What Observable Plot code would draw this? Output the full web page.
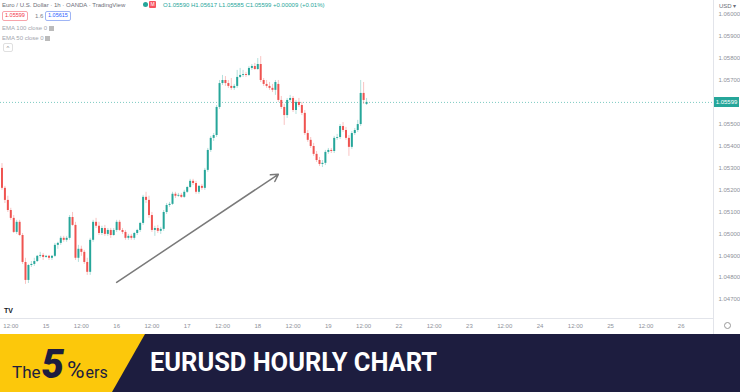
<!DOCTYPE html>
<html><head><meta charset="utf-8">
<script src="https://cdn.jsdelivr.net/npm/d3@7"></script>
<script src="https://cdn.jsdelivr.net/npm/@observablehq/plot@0.6"></script>
<style>
html,body{margin:0;padding:0;background:#fff;}
#wrap{position:relative;width:740px;height:392px;overflow:hidden;font-family:"Liberation Sans",Arial,sans-serif;}
#chart{position:absolute;left:0;top:0;}
.abs{position:absolute;white-space:nowrap;line-height:1;}
.leg{font-size:6px;color:#7d808a;}
.box{border:1px solid;border-radius:2px;padding:1px 2px;font-size:5.5px;}
#vline{position:absolute;left:713px;top:0;width:1px;height:334px;background:#e2e4ea;}
#hline{position:absolute;left:0;top:318px;width:713px;height:1px;background:#e2e4ea;}
#pricetag{position:absolute;left:714px;width:25px;height:10px;background:#26a69a;color:#fff;font-size:6px;line-height:10px;text-align:center;}
#gear{position:absolute;left:724px;top:322px;width:5px;height:5px;border:1px solid #999;border-radius:50%;}
#banner{position:absolute;left:0;top:334px;}
</style></head><body>
<div id="wrap">
  <div id="chart"></div>
  <div id="vline"></div><div id="hline"></div>
  <div class="abs leg" style="left:2px;top:2px;color:#6b6e78">Euro / U.S. Dollar · 1h · OANDA · TradingView</div>
  <div class="abs" style="left:143px;top:2px;width:5px;height:5px;border-radius:50%;background:#26a69a"></div>
  <div class="abs" style="left:149px;top:1px;width:7px;height:7px;border-radius:1px;background:#f7525f;color:#fff;font-size:5px;text-align:center;line-height:7px">M</div>
  <div class="abs leg" id="ohlc" style="left:163px;top:2px;color:#26a69a"></div>
  <div class="abs box" id="sellbox" style="left:2px;top:11px;color:#f23645;border-color:#f7a3aa"></div>
  <div class="abs leg" id="spread" style="left:35px;top:13px"></div>
  <div class="abs box" id="buybox" style="left:45px;top:11px;color:#2962ff;border-color:#9fb5f5"></div>
  <div class="abs leg" style="left:2px;top:25px;color:#a3a6ae">EMA 100 close 0 <span style="display:inline-block;width:5px;height:5px;background:#bbb;vertical-align:middle"></span></div>
  <div class="abs leg" style="left:2px;top:35px;color:#a3a6ae">EMA 50 close 0 <span style="display:inline-block;width:5px;height:5px;background:#bbb;vertical-align:middle"></span></div>
  <div class="abs leg" style="left:3px;top:43px;width:8px;height:7px;border:1px solid #e0e0e0;border-radius:2px;text-align:center;line-height:8px;color:#888">^</div>
  <div class="abs leg" style="left:719px;top:3px;color:#6b6e78">USD ▾</div>
  <div class="abs" style="left:4px;top:307px;font-size:7px;font-weight:bold;color:#131722">TV</div>
  <div id="gear"></div>
  <div id="pricetag"></div>
  <div id="banner">
    <svg width="740" height="58" xmlns="http://www.w3.org/2000/svg">
      <rect width="740" height="58" fill="#1d1d3f"></rect>
      <polygon points="0,0 145,0 112,58 0,58" fill="#fcc80b"></polygon>
      <text x="12" y="44" font-family="Roboto, 'Liberation Sans', Arial, sans-serif" fill="#1d1d3f"><tspan font-size="17">The</tspan><tspan font-size="40" font-weight="900" font-style="italic" dx="1">5</tspan><tspan font-size="24" dx="3">%</tspan><tspan font-size="16" dx="1">ers</tspan></text>
      <text x="150" y="37" font-family="Roboto, 'Liberation Sans', Arial, sans-serif" font-size="25" font-weight="700" fill="#ffffff" textLength="287" lengthAdjust="spacingAndGlyphs">EURUSD HOURLY CHART</text>
    </svg>
  </div>
</div>
<script>
// ---- data (EUR/USD, 1h candles) ----
const open = [
1.05298,1.05207,1.05152,1.05106,1.05070,1.05006,1.05052,1.04992,1.04869,1.04787,
1.04855,1.04860,1.04873,1.04897,1.04901,1.04892,1.04897,1.04888,1.04897,1.04947,
1.04956,1.04979,1.04970,1.04979,1.05074,1.05038,1.04888,1.04929,1.04915,1.04869,
1.04824,1.04970,1.05052,1.05034,1.05001,1.05024,1.04997,1.05015,1.04992,1.05015,
1.05052,1.05015,1.05006,1.04979,1.04988,1.04979,1.05001,1.05015,1.05047,1.05166,
1.05152,1.05083,1.05015,1.05024,1.05011,1.05020,1.05097,1.05129,1.05134,1.05180,
1.05171,1.05175,1.05166,1.05189,1.05211,1.05239,1.05229,1.05189,1.05216,1.05207,
1.05289,1.05380,1.05435,1.05448,1.05576,1.05685,1.05699,1.05685,1.05672,1.05663,
1.05672,1.05713,1.05722,1.05726,1.05722,1.05754,1.05763,1.05749,1.05772,1.05699,
1.05681,1.05672,1.05663,1.05654,1.05681,1.05608,1.05576,1.05539,1.05608,1.05617,
1.05562,1.05599,1.05585,1.05549,1.05457,1.05426,1.05398,1.05362,1.05334,1.05316,
1.05321,1.05371,1.05380,1.05375,1.05435,1.05439,1.05489,1.05471,1.05435,1.05394,
1.05457,1.05471,1.05498,1.05640,1.05590];
const high = [
1.05320,1.05216,1.05171,1.05116,1.05083,1.05061,1.05061,1.05001,1.04888,1.04860,
1.04873,1.04888,1.04901,1.04915,1.04910,1.04901,1.04901,1.04901,1.04956,1.04961,
1.04988,1.04988,1.04988,1.05083,1.05097,1.05052,1.04947,1.04943,1.04924,1.04888,
1.04979,1.05061,1.05070,1.05052,1.05034,1.05038,1.05024,1.05024,1.05024,1.05061,
1.05061,1.05024,1.05015,1.04997,1.04997,1.05006,1.05020,1.05052,1.05175,1.05189,
1.05171,1.05097,1.05034,1.05038,1.05029,1.05106,1.05138,1.05143,1.05189,1.05189,
1.05184,1.05184,1.05198,1.05216,1.05248,1.05248,1.05239,1.05220,1.05225,1.05298,
1.05389,1.05444,1.05457,1.05585,1.05699,1.05722,1.05717,1.05699,1.05708,1.05681,
1.05745,1.05754,1.05745,1.05736,1.05763,1.05772,1.05777,1.05799,1.05808,1.05708,
1.05699,1.05690,1.05681,1.05699,1.05699,1.05626,1.05590,1.05617,1.05631,1.05626,
1.05608,1.05617,1.05599,1.05562,1.05471,1.05439,1.05412,1.05375,1.05348,1.05334,
1.05380,1.05389,1.05389,1.05444,1.05453,1.05498,1.05507,1.05485,1.05448,1.05466,
1.05480,1.05517,1.05699,1.05690,1.05617];
const low = [
1.05198,1.05138,1.05097,1.05061,1.05001,1.04997,1.04988,1.04860,1.04769,1.04773,
1.04846,1.04851,1.04869,1.04888,1.04878,1.04888,1.04878,1.04878,1.04892,1.04929,
1.04947,1.04961,1.04961,1.04970,1.05034,1.04878,1.04869,1.04897,1.04860,1.04810,
1.04810,1.04961,1.05024,1.04992,1.04992,1.04988,1.04988,1.04979,1.04988,1.05006,
1.05011,1.04997,1.04970,1.04970,1.04970,1.04970,1.04992,1.05006,1.05038,1.05138,
1.05070,1.05006,1.04988,1.05001,1.04997,1.05011,1.05088,1.05120,1.05129,1.05161,
1.05166,1.05161,1.05161,1.05184,1.05207,1.05220,1.05180,1.05180,1.05198,1.05198,
1.05280,1.05371,1.05421,1.05439,1.05567,1.05676,1.05672,1.05663,1.05654,1.05654,
1.05663,1.05708,1.05713,1.05713,1.05717,1.05745,1.05745,1.05745,1.05690,1.05672,
1.05663,1.05654,1.05644,1.05631,1.05599,1.05567,1.05494,1.05526,1.05599,1.05553,
1.05544,1.05576,1.05539,1.05448,1.05417,1.05389,1.05353,1.05325,1.05307,1.05302,
1.05311,1.05362,1.05366,1.05366,1.05426,1.05430,1.05462,1.05426,1.05353,1.05385,
1.05448,1.05462,1.05489,1.05590,1.05585];
const close = [
1.05207,1.05152,1.05106,1.05070,1.05006,1.05052,1.04992,1.04869,1.04787,1.04855,
1.04860,1.04873,1.04897,1.04901,1.04892,1.04897,1.04888,1.04897,1.04947,1.04956,
1.04979,1.04970,1.04979,1.05074,1.05038,1.04888,1.04929,1.04915,1.04869,1.04824,
1.04970,1.05052,1.05034,1.05001,1.05024,1.04997,1.05015,1.04992,1.05015,1.05052,
1.05015,1.05006,1.04979,1.04988,1.04979,1.05001,1.05015,1.05047,1.05166,1.05152,
1.05083,1.05015,1.05024,1.05011,1.05020,1.05097,1.05129,1.05134,1.05180,1.05171,
1.05175,1.05166,1.05189,1.05211,1.05239,1.05229,1.05189,1.05216,1.05207,1.05289,
1.05380,1.05435,1.05448,1.05576,1.05685,1.05699,1.05685,1.05672,1.05663,1.05672,
1.05713,1.05722,1.05726,1.05722,1.05754,1.05763,1.05749,1.05772,1.05699,1.05681,
1.05672,1.05663,1.05654,1.05690,1.05608,1.05576,1.05539,1.05608,1.05617,1.05562,
1.05599,1.05585,1.05549,1.05457,1.05426,1.05398,1.05362,1.05334,1.05316,1.05321,
1.05371,1.05380,1.05375,1.05435,1.05439,1.05489,1.05471,1.05435,1.05394,1.05457,
1.05471,1.05498,1.05640,1.05608,1.05599];

// time axis: bar index of each tick and its label
const timeTicks  = [3,15,27,39,51,63,75,87,99,111,123,135,147,159,171,183,195,207,219,231];
const timeLabels = ["12:00","15","12:00","16","12:00","17","12:00","18","12:00","19",
                    "12:00","22","12:00","23","12:00","24","12:00","25","12:00","26"];
const priceTicks = [1.047,1.048,1.049,1.050,1.051,1.052,1.053,1.054,1.055,1.056,1.057,1.058,1.059,1.060];
const spreadPips = 1.6;
// trend arrow annotation (bar index, price)
const trendArrow = [{x1: 39, y1: 1.04778, x2: 94, y2: 1.05271}];

const up = "#26a69a", down = "#ef5350";
const candles = open.map((o, i) => ({i, open: o, high: high[i], low: low[i], close: close[i]}));
const last = candles[candles.length - 1];
const lastClose = last.close;
const labelOf = new Map(timeTicks.map((t, k) => [t, timeLabels[k]]));
const colorOf = d => d.close >= d.open ? up : down;

const chart = Plot.plot({
  width: 740, height: 334,
  marginLeft: 0, marginRight: 27, marginTop: 0, marginBottom: 16,
  x: {domain: [-0.5, 242], axis: null},
  y: {domain: [1.047, 1.060], range: [299, 14], axis: null},
  style: {fontFamily: "'Liberation Sans', Arial, sans-serif", background: "transparent", color: "#8e919a"},
  marks: [
    Plot.axisY({anchor: "right", ticks: priceTicks.filter(t => Math.abs(t - lastClose) > 0.0003),
      tickFormat: d => d.toFixed(5), tickSize: 0, tickPadding: 5, fontSize: 6, fill: "#8e919a"}),
    Plot.axisX({ticks: timeTicks, tickFormat: d => labelOf.get(d), tickSize: 0, tickPadding: 5, fontSize: 6, fill: "#8e919a"}),
    Plot.ruleY([lastClose], {stroke: up, strokeOpacity: 0.6, strokeDasharray: "1,2"}),
    Plot.ruleX(candles, {x: "i", y1: "low", y2: "high", stroke: colorOf, strokeOpacity: 0.35}),
    Plot.ruleX(candles, {x: "i", y1: "open", y2: "close", stroke: colorOf, strokeWidth: 2}),
    Plot.arrow(trendArrow, {x1: "x1", y1: "y1", x2: "x2", y2: "y2", bend: 0, stroke: "#7a7a7a", strokeWidth: 1.5, headLength: 8})
  ]
});
document.getElementById("chart").append(chart);

// overlays driven by the data and the plot's own scale
const yPx = chart.scale("y").apply(lastClose);
const tag = document.getElementById("pricetag");
tag.style.top = (yPx - 5) + "px";
tag.textContent = lastClose.toFixed(5);
const chg = last.close - last.open;
document.getElementById("ohlc").textContent =
  `O${last.open.toFixed(5)} H${last.high.toFixed(5)} L${last.low.toFixed(5)} C${last.close.toFixed(5)} ${chg >= 0 ? "+" : "−"}${Math.abs(chg).toFixed(5)} (${chg >= 0 ? "+" : "−"}${Math.abs(chg / last.open * 100).toFixed(2)}%)`;
document.getElementById("sellbox").textContent = lastClose.toFixed(5);
document.getElementById("spread").textContent = spreadPips.toFixed(1);
document.getElementById("buybox").textContent = (lastClose + spreadPips / 10000).toFixed(5);
</script>
</body></html>
